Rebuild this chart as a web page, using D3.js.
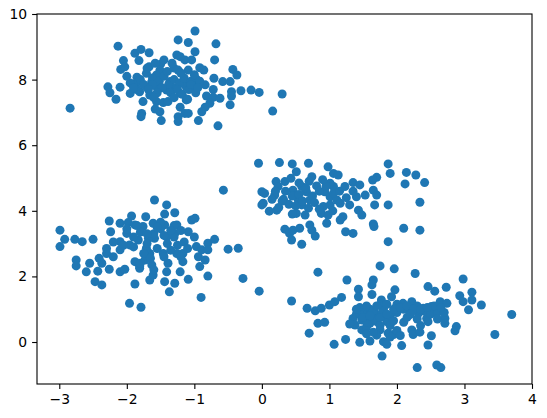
<!DOCTYPE html>
<html lang="en">
<head>
    <meta charset="UTF-8">
    <title>Blobs Scatter</title>
    <script src="https://d3js.org/d3.v7.min.js"></script>
    <style>
        body { margin: 0; background: #fff; }
        .axis text {
            font-family: "DejaVu Sans", sans-serif;
            font-size: 13.9px;
            fill: #000;
        }
        .axis path, .axis line {
            stroke: #000;
            stroke-width: 1.1px;
        }
    </style>
</head>
<body>
    <svg width="547" height="418"></svg>

    <script>
        // cluster points, [x, y]
        const clusterTopLeft = [
            [-2.13, 9.02], [-2.84, 7.13], [-1.24, 9.21], [-1.09, 9.13], [-1.88, 8.80], [-1.79, 8.92],
            [-1.67, 8.82], [-1.82, 8.58], [-2.05, 8.58], [-2.09, 8.31], [-2.03, 8.39], [-1.67, 8.39],
            [-1.50, 8.47], [-1.26, 8.75], [-1.24, 8.29], [-1.51, 8.29], [-1.56, 8.14], [-1.85, 8.07],
            [-1.71, 8.19], [-1.63, 7.94], [-1.56, 7.78], [-1.86, 7.89], [-2.28, 7.78], [-2.10, 7.77],
            [-2.25, 7.60], [-2.16, 7.40], [-1.95, 7.58], [-1.81, 7.63], [-1.76, 7.33], [-1.78, 6.97],
            [-1.79, 6.87], [-1.56, 7.33], [-1.46, 7.30], [-1.39, 7.33], [-1.58, 7.10], [-1.51, 7.02],
            [-1.49, 6.75], [-1.24, 6.87], [-1.24, 6.72], [-1.21, 7.16], [-1.36, 7.94], [-1.29, 7.74],
            [-1.41, 7.68], [-1.14, 8.60], [-1.12, 7.78], [-1.14, 6.97], [-1.71, 7.78], [-1.66, 7.53],
            [-0.99, 9.48], [-0.68, 9.09], [-1.21, 8.70], [-0.99, 8.85], [-1.04, 8.60], [-0.70, 8.60],
            [-1.09, 8.29], [-0.92, 8.36], [-0.86, 8.29], [-0.43, 8.31], [-0.37, 8.14], [-0.71, 8.04],
            [-0.58, 7.94], [-0.47, 7.94], [-0.97, 8.01], [-1.09, 7.89], [-1.19, 7.89], [-0.99, 7.78],
            [-0.84, 7.84], [-0.72, 7.70], [-0.45, 7.63], [-0.31, 7.66], [-0.16, 7.68], [-0.04, 7.61],
            [0.30, 7.56], [-0.82, 7.50], [-0.72, 7.46], [-0.62, 7.43], [-0.45, 7.50], [-1.12, 7.38],
            [-1.21, 7.58], [-0.77, 7.28], [-0.84, 7.16], [-0.47, 7.23], [-0.89, 7.02], [-1.09, 6.97],
            [0.16, 7.04], [-0.94, 6.75], [-0.65, 6.59],
            [-1.62, 8.05], [-1.52, 7.95], [-1.45, 8.10], [-1.38, 7.85], [-1.30, 8.00], [-1.22, 7.90],
            [-1.15, 8.05], [-1.05, 7.95], [-1.48, 7.75], [-1.35, 7.60], [-1.25, 7.70], [-1.18, 7.55],
            [-1.08, 7.70], [-0.98, 7.60], [-1.55, 7.60], [-1.62, 7.85], [-1.40, 8.25], [-1.30, 8.35],
            [-1.20, 8.20], [-1.00, 8.15], [-1.70, 8.35], [-1.58, 8.50], [-1.45, 8.60], [-1.33, 8.50],
            [-0.92, 7.95], [-1.85, 7.70], [-1.95, 7.90], [-2.00, 8.10], [-1.10, 7.40], [-1.30, 7.45],
            [-1.80, 8.00], [-1.75, 7.85], [-1.68, 7.70], [-1.90, 7.75], [-1.60, 7.45], [-1.05, 7.85],
            [-0.95, 7.75]
        ];

        const clusterMiddle = [
            [-0.05, 5.45], [0.26, 5.47], [0.45, 5.43], [0.69, 5.45], [0.51, 5.19], [0.98, 5.34],
            [0.74, 5.04], [0.21, 4.89], [0.34, 4.89], [0.43, 4.99], [1.06, 5.14], [0.24, 4.74],
            [0.00, 4.58], [0.04, 4.53], [0.19, 4.48], [0.32, 4.35], [0.46, 4.63], [0.59, 4.74],
            [0.66, 4.58], [0.81, 4.76], [0.93, 4.58], [1.06, 4.74], [0.02, 4.23], [0.11, 3.99],
            [0.22, 4.02], [0.54, 4.33], [0.59, 4.18], [0.71, 4.33], [0.69, 4.08], [0.51, 3.92],
            [0.64, 3.87], [0.91, 4.13], [0.88, 3.92], [0.98, 3.87], [1.01, 4.43], [1.11, 4.33],
            [0.96, 3.62], [0.71, 3.57], [0.34, 3.44], [0.41, 3.31], [0.46, 3.41], [0.56, 3.47],
            [0.74, 3.41], [0.79, 3.23], [0.59, 2.98], [0.44, 3.11], [0.00, 4.18],
            [1.87, 5.43], [1.90, 5.14], [2.14, 5.17], [2.28, 5.09], [2.41, 4.86], [2.12, 4.82],
            [1.70, 5.02], [1.64, 4.94], [1.13, 5.09], [1.35, 4.86], [1.45, 4.79], [1.23, 4.74],
            [1.65, 4.63], [1.53, 4.48], [1.70, 4.48], [1.40, 4.43], [1.30, 4.18], [1.16, 4.23],
            [1.01, 4.18], [1.67, 4.18], [1.87, 4.18], [2.34, 4.26], [1.43, 4.02], [1.48, 3.87],
            [1.20, 3.82], [1.16, 3.72], [1.65, 3.60], [1.66, 3.52], [2.10, 3.47], [2.34, 3.41],
            [1.24, 3.36], [1.35, 3.31], [1.87, 3.06], [1.06, 4.53], [1.01, 4.84],
            [0.35, 4.60], [0.45, 4.45], [0.55, 4.50], [0.65, 4.70], [0.75, 4.45], [0.85, 4.60],
            [0.95, 4.75], [0.40, 4.20], [0.50, 4.15], [0.60, 4.30], [0.78, 4.25], [0.85, 4.05],
            [0.30, 4.30], [0.20, 4.60], [0.70, 4.90], [1.15, 4.60], [1.25, 4.40], [0.45, 3.90],
            [1.05, 4.00], [0.90, 4.95], [0.55, 4.85], [0.25, 4.10], [1.35, 4.60], [0.15, 4.35]
        ];

        const clusterLeft = [
            [-2.99, 3.41], [-2.92, 3.13], [-2.99, 2.91], [-2.77, 3.13], [-2.66, 3.06], [-2.50, 3.13],
            [-2.26, 3.69], [-2.24, 3.36], [-2.10, 3.62], [-1.93, 3.84], [-1.98, 3.64], [-1.88, 3.57],
            [-1.72, 3.82], [-2.00, 3.31], [-2.10, 3.06], [-2.10, 2.81], [-1.96, 2.96], [-1.83, 3.11],
            [-2.30, 2.70], [-2.41, 2.55], [-2.37, 2.40], [-2.55, 2.40], [-2.75, 2.50], [-2.75, 2.32],
            [-2.60, 2.14], [-2.43, 2.16], [-2.26, 2.22], [-2.10, 2.14], [-2.03, 2.22], [-1.88, 2.45],
            [-1.81, 2.25], [-1.73, 2.50], [-1.66, 2.70], [-1.88, 1.77], [-2.47, 1.84], [-2.37, 1.74],
            [-1.96, 1.18], [-1.79, 1.06], [-1.66, 1.89],
            [-1.59, 4.33], [-1.41, 4.18], [-0.57, 4.63], [-1.44, 3.90], [-1.29, 3.94], [-1.61, 3.62],
            [-1.76, 3.52], [-1.44, 3.57], [-1.26, 3.57], [-1.04, 3.72], [-0.99, 3.77], [-1.09, 3.36],
            [-1.29, 3.31], [-1.41, 3.21], [-1.59, 3.16], [-1.68, 3.16], [-0.70, 3.13], [-0.80, 3.01],
            [-0.97, 2.91], [-0.89, 2.81], [-0.80, 2.81], [-0.50, 2.83], [-0.35, 2.86], [-1.17, 2.70],
            [-1.26, 2.70], [-1.46, 2.70], [-1.71, 2.86], [-0.94, 2.60], [-0.84, 2.50], [-1.17, 2.45],
            [-1.39, 2.40], [-1.63, 2.35], [-0.92, 2.30], [-1.41, 2.14], [-1.21, 2.14], [-1.61, 2.04],
            [-0.80, 2.01], [-1.09, 1.91], [-1.44, 1.84], [-1.29, 1.79], [-1.37, 1.53], [-0.90, 1.36],
            [-0.28, 1.94], [-0.04, 1.55], [-1.81, 2.30],
            [-1.90, 3.20], [-1.80, 3.35], [-1.70, 3.00], [-1.60, 3.30], [-1.50, 3.45], [-1.40, 3.00],
            [-1.30, 3.20], [-1.20, 3.40], [-1.55, 2.85], [-1.75, 2.70], [-1.90, 2.90], [-2.05, 2.95],
            [-1.45, 2.60], [-1.35, 2.80], [-1.25, 2.95], [-1.15, 3.05], [-2.20, 3.05], [-2.30, 2.85],
            [-1.65, 2.55], [-1.50, 3.65], [-1.30, 3.55], [-2.00, 3.45], [-1.85, 3.55], [-1.10, 2.85],
            [-1.60, 2.20], [-1.80, 2.40], [-2.20, 2.60], [-1.00, 3.20],
            [-1.55, 3.50], [-1.45, 3.25], [-1.35, 3.40], [-1.70, 3.30], [-1.20, 2.60]
        ];

        const clusterBottomRight = [
            [0.83, 2.13], [1.75, 2.32], [1.26, 1.89], [1.65, 1.89], [1.63, 1.74], [1.43, 1.61],
            [1.43, 1.38], [1.63, 1.45], [0.44, 1.25], [0.67, 1.03], [0.79, 0.95], [0.88, 1.03],
            [1.00, 1.13], [1.08, 1.23], [1.18, 1.36], [1.77, 1.28], [1.45, 1.05], [1.35, 0.72],
            [0.83, 0.57], [0.93, 0.60], [0.70, 0.27], [1.38, 0.52], [1.48, 0.67], [1.57, 0.82],
            [1.60, 0.57], [1.48, 0.37], [1.70, 0.62], [1.75, 0.37], [1.80, 1.03], [1.82, 0.77],
            [1.07, -0.07], [1.24, 0.08], [1.45, -0.01], [1.60, 0.03], [1.70, 0.21], [1.80, 0.01],
            [1.78, -0.43], [1.87, 0.27],
            [1.96, 2.23], [2.27, 2.09], [2.98, 1.92], [2.46, 1.69], [2.56, 1.55], [2.73, 1.67],
            [1.97, 1.59], [1.92, 1.38], [2.93, 1.41], [3.11, 1.52], [3.11, 1.28], [2.98, 1.23],
            [3.25, 1.13], [3.06, 0.98], [3.70, 0.84], [3.45, 0.23], [2.22, 1.23], [2.09, 1.18],
            [2.64, 1.23], [2.74, 1.18], [2.39, 1.03], [2.51, 1.08], [2.59, 0.98], [2.19, 0.84],
            [2.32, 0.88], [2.44, 0.72], [2.46, 0.62], [2.71, 0.72], [2.71, 0.57], [2.88, 0.47],
            [2.86, 0.34], [2.22, 0.37], [2.24, 0.23], [2.34, 0.30], [2.51, 0.19], [2.46, -0.09],
            [2.07, -0.11], [1.85, -0.07], [1.95, 0.23], [1.85, 0.62], [2.30, -0.78], [2.59, -0.70],
            [2.65, -0.78], [1.75, 1.13],
            [1.50, 0.90], [1.60, 1.00], [1.70, 0.85], [1.80, 0.95], [1.90, 0.80], [2.00, 0.90],
            [2.10, 1.00], [2.20, 0.95], [2.30, 1.10], [2.40, 0.95], [2.50, 0.85], [2.60, 0.90],
            [2.55, 1.10], [1.55, 0.45], [1.65, 0.30], [1.90, 0.50], [2.00, 0.35], [2.10, 0.60],
            [1.95, 0.65], [1.75, 0.50], [1.85, 1.15], [2.00, 1.15], [1.65, 0.70], [1.55, 0.60],
            [2.15, 0.75], [2.30, 0.70], [2.60, 0.70], [2.70, 0.90], [1.40, 0.85], [1.30, 0.55],
            [1.90, 0.15], [2.05, 0.20], [2.35, 0.50],
            [1.45, 0.85], [1.55, 1.10], [1.65, 0.95], [1.75, 0.75], [1.85, 0.85], [1.50, 0.75],
            [1.60, 0.80], [1.95, 1.00], [2.05, 1.05], [2.15, 1.10], [2.25, 1.00], [1.40, 1.00],
            [1.70, 1.10], [1.55, 0.25], [2.35, 1.00], [2.45, 1.05], [2.65, 1.05], [2.20, 0.85]
        ];

        const xTicks = [-3, -2, -1, 0, 1, 2, 3, 4];
        const yTicks = [0, 2, 4, 6, 8, 10];

        const points = [].concat(clusterTopLeft, clusterMiddle, clusterLeft, clusterBottomRight);

        const width = 547, height = 418;
        const margin = { top: 14, right: 15, bottom: 34, left: 37 };

        const svg = d3.select("svg");

        const x = d3.scaleLinear()
            .domain([-3.33, 4.0])
            .range([margin.left, width - margin.right]);

        const y = d3.scaleLinear()
            .domain([-1.28, 10])
            .range([height - margin.bottom, margin.top]);

        // points
        svg.append("g")
            .selectAll("circle")
            .data(points)
            .join("circle")
            .attr("cx", d => x(d[0]))
            .attr("cy", d => y(d[1]))
            .attr("r", 4.5)
            .attr("fill", "#1f77b4");

        // axes
        svg.append("g")
            .attr("class", "axis")
            .attr("transform", `translate(0,${height - margin.bottom})`)
            .call(d3.axisBottom(x).tickValues(xTicks).tickSizeInner(4.9).tickSizeOuter(0).tickPadding(4.9));

        svg.append("g")
            .attr("class", "axis")
            .attr("transform", `translate(${margin.left},0)`)
            .call(d3.axisLeft(y).tickValues(yTicks).tickSizeInner(4.9).tickSizeOuter(0).tickPadding(4.9));

        // frame
        svg.append("rect")
            .attr("x", margin.left)
            .attr("y", margin.top)
            .attr("width", width - margin.left - margin.right)
            .attr("height", height - margin.top - margin.bottom)
            .attr("fill", "none")
            .attr("stroke", "#000")
            .attr("stroke-width", 1.1);

        svg.selectAll(".axis .domain").remove();
    </script>
</body>
</html>
